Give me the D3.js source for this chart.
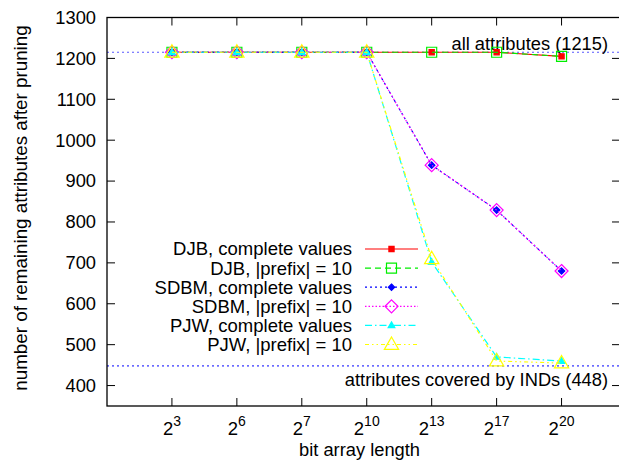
<!DOCTYPE html>
<html><head><meta charset="utf-8">
<script src="https://cdn.jsdelivr.net/npm/d3@7"></script>
<style>body{margin:0;background:#fff}svg{display:block}text{font-family:"Liberation Sans",Arial,sans-serif;fill:#000}</style>
</head><body>
<svg id="c" width="619" height="463"></svg>
<script>
const categories = ["3","6","7","10","13","17","20"];
const yTicks = [400,500,600,700,800,900,1000,1100,1200,1300];
const djbComplete  = [1215,1215,1215,1215,1215,1215,1205];
const djbPrefix    = [1215,1215,1215,1215,1215,1215,1205];
const sdbmComplete = [1215,1215,1215,1215,939,829,680];
const sdbmPrefix   = [1215,1215,1215,1215,939,829,680];
const pjwComplete  = [1215,1215,1215,1215,702,470,460];
const pjwPrefix    = [1215,1215,1215,1215,710,460,455];
const seriesNames = ["DJB, complete values","DJB, |prefix| = 10","SDBM, complete values","SDBM, |prefix| = 10","PJW, complete values","PJW, |prefix| = 10"];
const refAll = 1215, refInd = 448;
const refAllLabel = "all attributes (1215)";
const refIndLabel = "attributes covered by INDs (448)";

const styles = [
  {color:"#ff0000", dash:null, marker:"square", fill:true, r:2.6},
  {color:"#00ee00", dash:"6,4", marker:"square", fill:false, r:5},
  {color:"#0000ff", dash:"2,3", marker:"diamond", fill:true, r:3.2},
  {color:"#ff00ff", dash:"1.5,2", marker:"diamond", fill:false, r:6.5},
  {color:"#00ffff", dash:"7,3,1.5,3", marker:"triangle", fill:true, r:3.5},
  {color:"#ffff00", dash:"4,3,1.5,3,1.5,3", marker:"triangle", fill:false, r:7.5}
];
const data = [djbComplete,djbPrefix,sdbmComplete,sdbmPrefix,pjwComplete,pjwPrefix];

const svg = d3.select("#c");
const L=107, R=620, T=17.5, B=406;
const x = d3.scaleLinear().domain([0,7.9]).range([L,R]);
const y = d3.scaleLinear().domain([350,1300]).range([B,T]);

function markerPath(type, r){
  if(type==="square") return `M${-r},${-r}h${2*r}v${2*r}h${-2*r}Z`;
  if(type==="diamond") return `M0,${-r}L${r},0L0,${r}L${-r},0Z`;
  return `M0,${-r}L${r*0.95},${r*0.65}L${-r*0.95},${r*0.65}Z`;
}

// reference lines
svg.append("line").attr("x1",L).attr("x2",R).attr("y1",y(refAll)).attr("y2",y(refAll))
  .attr("stroke","#0000ff").attr("stroke-width",1).attr("stroke-dasharray","2,3").attr("opacity",0.65);
svg.append("line").attr("x1",L).attr("x2",R).attr("y1",y(refInd)).attr("y2",y(refInd))
  .attr("stroke","#0000ff").attr("stroke-width",1).attr("stroke-dasharray","2,3");
svg.append("text").attr("x",608).attr("y",y(refAll)-2).attr("text-anchor","end").attr("font-size",18.3).text(refAllLabel);
svg.append("text").attr("x",608).attr("y",386).attr("text-anchor","end").attr("font-size",18.3).text(refIndLabel);

// axes frame
const g = svg.append("g");
g.append("rect").attr("x",L).attr("y",T).attr("width",R-L).attr("height",B-T)
  .attr("fill","none").attr("stroke","#000").attr("stroke-width",1.3);
yTicks.forEach(v=>{
  g.append("line").attr("x1",L).attr("x2",L+8).attr("y1",y(v)).attr("y2",y(v)).attr("stroke","#000");
  g.append("line").attr("x1",R-8).attr("x2",R).attr("y1",y(v)).attr("y2",y(v)).attr("stroke","#000");
  g.append("text").attr("x",96).attr("y",y(v)).attr("dy","0.35em").attr("text-anchor","end").attr("font-size",18.3).text(v);
});
categories.forEach((c,i)=>{
  const xi = x(i+1);
  g.append("line").attr("x1",xi).attr("x2",xi).attr("y1",B).attr("y2",B-8).attr("stroke","#000");
  g.append("line").attr("x1",xi).attr("x2",xi).attr("y1",T).attr("y2",T+8).attr("stroke","#000");
  const t = g.append("text").attr("x",xi).attr("y",435).attr("text-anchor","middle").attr("font-size",18.5);
  t.append("tspan").text("2");
  t.append("tspan").attr("font-size",14).attr("dy",-9).text(c);
});
svg.append("text").attr("x",(L+R)/2-4).attr("y",456).attr("text-anchor","middle").attr("font-size",18.3).text("bit array length");
svg.append("text").attr("transform","translate(27,208) rotate(-90)").attr("text-anchor","middle").attr("font-size",18.8)
  .text("number of remaining attributes after pruning");

// series
const line = d3.line().x((d,i)=>x(i+1)).y(d=>y(d));
data.forEach((vals,k)=>{
  const s = styles[k];
  const sg = svg.append("g");
  sg.append("path").attr("d",line(vals)).attr("fill","none").attr("stroke",s.color).attr("stroke-width",1.2)
    .attr("stroke-dasharray",s.dash);
  sg.selectAll(".m").data(vals).enter().append("path")
    .attr("transform",(d,i)=>`translate(${x(i+1)},${y(d)})`)
    .attr("d",markerPath(s.marker,s.r))
    .attr("fill",s.fill?s.color:"none").attr("stroke",s.color).attr("stroke-width",1.2);
  // legend
  const ly = 249 + k*19.1;
  svg.append("text").attr("x",352).attr("y",ly).attr("dy","0.35em").attr("text-anchor","end").attr("font-size",18.5).text(seriesNames[k]);
  svg.append("line").attr("x1",365).attr("x2",418).attr("y1",ly).attr("y2",ly).attr("stroke",s.color).attr("stroke-width",1.2).attr("stroke-dasharray",s.dash);
  svg.append("path").attr("transform",`translate(391.5,${ly})`).attr("d",markerPath(s.marker,s.r))
    .attr("fill",s.fill?s.color:"none").attr("stroke",s.color).attr("stroke-width",1.2);
});
</script>
</body></html>
